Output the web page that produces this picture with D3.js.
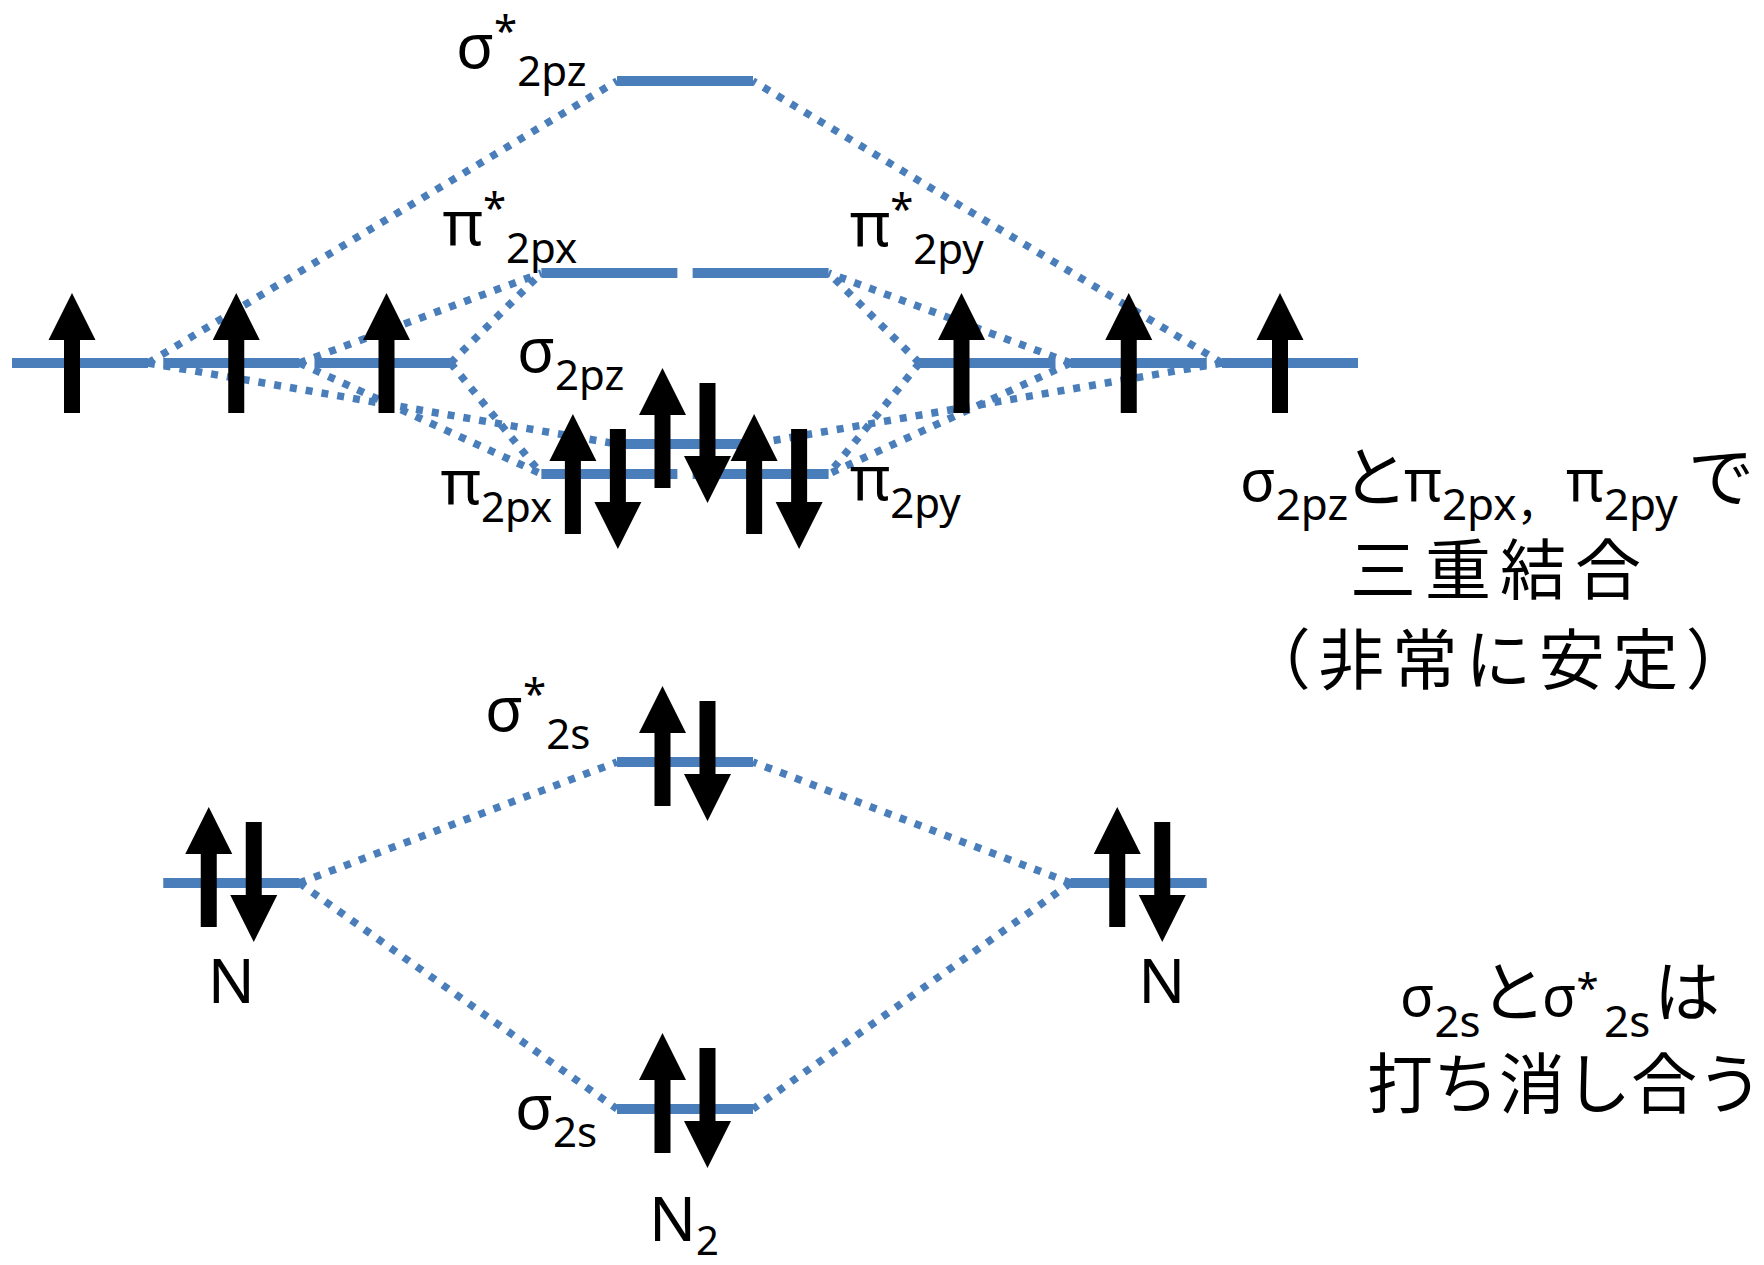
<!DOCTYPE html>
<html><head><meta charset="utf-8">
<script src="https://cdn.jsdelivr.net/npm/d3@7"></script>
<style>
html,body{margin:0;padding:0;background:#fff;}
svg{display:block;background:#fff;}
text{font-family:"Noto Sans","Noto Sans CJK JP",sans-serif;fill:#000;}
.jp{font-family:"Noto Sans CJK JP",sans-serif;}
</style></head><body>
<svg id="c" width="1764" height="1265"></svg>
<script>
// ---------------- data ----------------
const orbitalIds       = ["L2p1","L2p2","L2p3","R2p1","R2p2","R2p3","L2s","R2s","s2pzStar","p2pxStar","p2pyStar","s2pz","p2px","p2py","s2sStar","s2s"];
const orbitalSlots     = [0, 1, 2, 6, 7, 8, 1, 7, 4, 3.5, 4.5, 4, 3.5, 4.5, 4, 4];
const orbitalEnergies  = [74.6,74.6,74.6,74.6,74.6,74.6,22.6,22.6,102.8,83.6,83.6,66.5,63.5,63.5,34.7,0];
const orbitalElectrons = [1,1,1,1,1,1,2,2,0,0,0,2,2,2,2,2];

const connectionFrom = ["L2p1","L2p1","L2p2","L2p2","L2p3","L2p3","R2p1","R2p1","R2p2","R2p2","R2p3","R2p3","L2s","L2s","R2s","R2s"];
const connectionTo   = ["s2pzStar","s2pz","p2pxStar","p2px","p2pxStar","p2px","p2pyStar","p2py","p2pyStar","p2py","s2pzStar","s2pz","s2sStar","s2s","s2sStar","s2s"];

const labelOrbitals = ["s2pzStar","p2pxStar","p2pyStar","s2pz","p2px","p2py","s2sStar","s2s"];
const labelBase     = ["σ","π","π","σ","π","π","σ","σ"];
const labelStar     = [true,true,true,false,false,false,true,false];
const labelSub      = ["2pz","2px","2py","2pz","2px","2py","2s","2s"];

const atomLabels        = ["N","N"];
const atomLabelOrbitals = ["L2s","R2s"];
const moleculeLabel     = ["N","2"];

const noteBonding = ["σ","2pz","と","π","2px，","π","2py","で"];
const noteBondingLines = ["三重結合","（非常に安定）"];
const noteCancel = ["σ","2s","と","σ","*","2s","は"];
const noteCancelLine = "打ち消し合う";

// ---------------- layout ----------------
const W = 1764, H = 1265;
const blue = "#4A7EBB";
const levelW = 136;
const x = d3.scaleLinear().domain([0, 8]).range([12, 1222]);
const y = d3.scaleLinear().domain([0, 100]).range([1109, 109]);

const svg = d3.select("#c");
svg.append("rect").attr("width", W).attr("height", H).attr("fill", "#fff");

const orbitals = orbitalIds.map((id, i) => ({
  id, slot: orbitalSlots[i], E: orbitalEnergies[i], e: orbitalElectrons[i],
  L: x(orbitalSlots[i]), R: x(orbitalSlots[i]) + levelW, Y: y(orbitalEnergies[i])
}));
const byId = Object.fromEntries(orbitals.map(o => [o.id, o]));

// dotted connectors
const gLines = svg.append("g");
connectionFrom.forEach((f, i) => {
  const a = byId[f], m = byId[connectionTo[i]];
  const left = (a.L + a.R) / 2 < (m.L + m.R) / 2;
  gLines.append("line")
    .attr("x1", left ? a.R : a.L).attr("y1", a.Y)
    .attr("x2", left ? m.L : m.R).attr("y2", m.Y)
    .attr("stroke", blue).attr("stroke-width", 7.5)
    .attr("stroke-dasharray", "7,9");
});

// levels
svg.append("g").selectAll("line").data(orbitals).join("line")
  .attr("x1", d => d.L).attr("x2", d => d.R)
  .attr("y1", d => d.Y).attr("y2", d => d.Y)
  .attr("stroke", blue).attr("stroke-width", 10);

// electrons (arrows)
const arrowNudge = {L2p1:[-8,0],L2p2:[5,0],L2p3:[4,0],R2p1:[-26,0],R2p2:[-10,0],R2p3:[-10,0],
                    p2px:[-14,16],p2py:[16,16],R2s:[1,0]};
function arrowPath(cx, top, bot, up) {
  const hw = 23.5, hl = 47, sw = 8;
  if (up) return `M${cx},${top}L${cx+hw},${top+hl}L${cx+sw},${top+hl}L${cx+sw},${bot}L${cx-sw},${bot}L${cx-sw},${top+hl}L${cx-hw},${top+hl}Z`;
  return `M${cx},${bot}L${cx+hw},${bot-hl}L${cx+sw},${bot-hl}L${cx+sw},${top}L${cx-sw},${top}L${cx-sw},${bot-hl}L${cx-hw},${bot-hl}Z`;
}
const gArrows = svg.append("g");
orbitals.forEach(o => {
  const [nx, ny] = arrowNudge[o.id] || [0, 0];
  const c = (o.L + o.R) / 2 + nx, Y = o.Y + ny;
  if (o.e === 1) {
    gArrows.append("path").attr("d", arrowPath(c, Y - 70, Y + 50, true)).attr("fill", "#000");
  } else if (o.e === 2) {
    gArrows.append("path").attr("d", arrowPath(c - 22.5, Y - 76, Y + 44, true)).attr("fill", "#000");
    gArrows.append("path").attr("d", arrowPath(c + 22.5, Y - 61, Y + 59, false)).attr("fill", "#000");
  }
});

// rich text helper
function rich(g, tx, ty, pieces, anchor) {
  const t = g.append("text").attr("x", tx).attr("y", ty).attr("text-anchor", anchor || "start");
  let cur = 0;
  pieces.forEach(p => {
    const ts = t.append("tspan").text(p.t).attr("font-size", p.size);
    const s = p.shift || 0;
    if (s !== cur) ts.attr("dy", s - cur);
    cur = s;
    if (p.x != null) ts.attr("x", p.x);
    if (p.jp) ts.attr("class", "jp");
  });
  return t;
}

// orbital labels
const labelPlace = {s2pzStar:["L",-161,-13], p2pxStar:["L",-99,-28], p2pyStar:["R",21,-27],
                    s2pz:["L",-100,-72], p2px:["L",-101,30], p2py:["R",21,26],
                    s2sStar:["L",-132,-31], s2s:["L",-102,20]};
const gLab = svg.append("g");
labelOrbitals.forEach((id, i) => {
  const o = byId[id], [side, dx, dy] = labelPlace[id];
  const pieces = [{t: labelBase[i], size: 62}];
  if (labelStar[i]) pieces.push({t: "*", size: 42, shift: -22});
  pieces.push({t: labelSub[i], size: 42, shift: 18});
  rich(gLab, (side === "L" ? o.L : o.R) + dx, o.Y + dy, pieces);
});

// atom labels
const atomNudge = {L2s: 0, R2s: 23};
atomLabels.forEach((lab, i) => {
  const o = byId[atomLabelOrbitals[i]];
  gLab.append("text").attr("x", (o.L + o.R) / 2 + atomNudge[o.id]).attr("y", o.Y + 120)
    .attr("text-anchor", "middle").attr("font-size", 62).text(lab);
});
{
  const o = byId["s2s"];
  rich(gLab, (o.L + o.R) / 2 - 1, o.Y + 132,
       [{t: moleculeLabel[0], size: 62}, {t: moleculeLabel[1], size: 40, shift: 14}], "middle");
}

// notes
const gN = svg.append("g");
const nb = noteBonding;
rich(gN, 1240, 501, [
  {t: nb[0], size: 58, x: 1240}, {t: nb[1], size: 44, shift: 19},
  {t: nb[2], size: 66, jp: true, x: 1342}, {t: nb[3], size: 58, x: 1404},
  {t: nb[4], size: 44, shift: 19}, {t: nb[5], size: 58, x: 1566},
  {t: nb[6], size: 44, shift: 19}, {t: nb[7], size: 66, jp: true, x: 1688}
]);
gN.append("text").attr("class", "jp").attr("x", 1500).attr("y", 594).attr("text-anchor", "middle")
  .attr("font-size", 66).attr("letter-spacing", 9).text(noteBondingLines[0]);
gN.append("text").attr("class", "jp").attr("x", 1502).attr("y", 684).attr("text-anchor", "middle")
  .attr("font-size", 66).attr("letter-spacing", 7.5).text(noteBondingLines[1]);
const nc = noteCancel;
rich(gN, 1400, 1016, [
  {t: nc[0], size: 56, x: 1400}, {t: nc[1], size: 44, shift: 21},
  {t: nc[2], size: 66, jp: true, x: 1480}, {t: nc[3], size: 56, x: 1542},
  {t: nc[4], size: 40, shift: -14}, {t: nc[5], size: 44, shift: 21, x: 1604},
  {t: nc[6], size: 66, jp: true, x: 1654}
]);
gN.append("text").attr("class", "jp").attr("x", 1367).attr("y", 1108)
  .attr("font-size", 66).text(noteCancelLine);
</script>
</body></html>
